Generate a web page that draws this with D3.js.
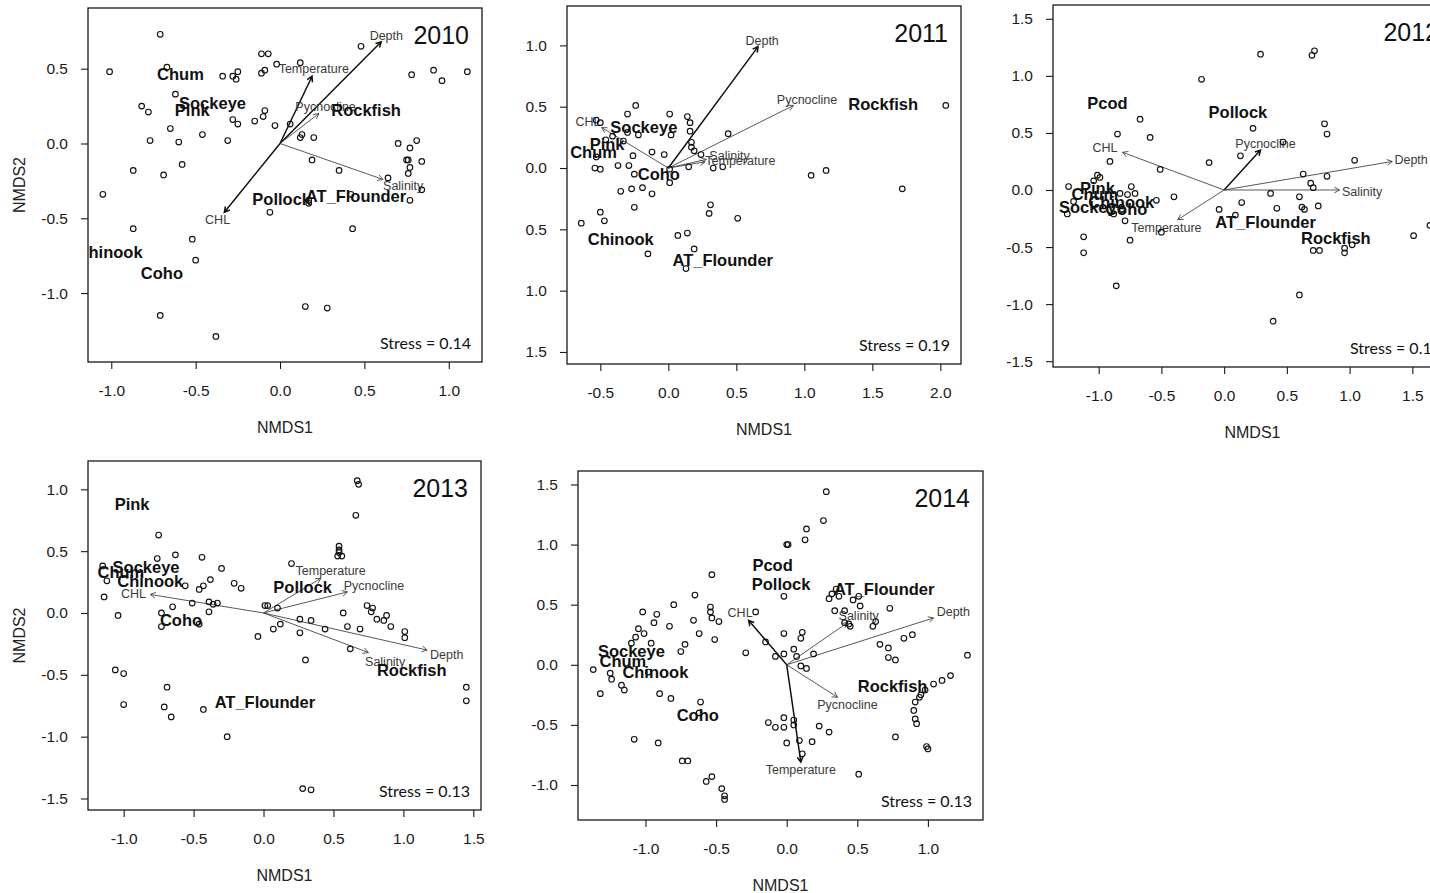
<!DOCTYPE html>
<html>
<head>
<meta charset="utf-8">
<script src="https://cdn.jsdelivr.net/npm/d3@7"></script>
<style>
body{margin:0;background:#fff;}
svg text{font-family:"Liberation Sans",Arial,sans-serif;}
.box{fill:none;stroke:#1a1a1a;stroke-width:1.3px;}
.pt{fill:none;stroke:#111;stroke-width:1.15px;}
.vec{stroke:#444;stroke-width:0.9px;fill:none;}
.vec.strong{stroke:#111;stroke-width:1.5px;}
.vlab{font-size:12.5px;fill:#3a3a3a;}
.sp{font-size:16.5px;font-weight:bold;fill:#111;}
.yr{font-size:25px;fill:#111;}
.stress{font-family:Lato,"Open Sans",sans-serif !important;font-size:16px;fill:#111;}
.ttl{font-size:16px;fill:#222;}
</style>
</head>
<body>
<div class="container"></div>
<script>
(function(){

// ---- 2010 ----
var points2010 = [
  [-0.71,0.73],[-1.01,0.48],[-0.67,0.51],[-0.34,0.45],[-0.28,0.45],[-0.25,0.48],[-0.26,0.43],[-0.11,0.60],[-0.07,0.60],
  [-0.11,0.47],[-0.09,0.49],[-0.02,0.53],[0.12,0.54],[0.48,0.65],[0.78,0.46],[0.91,0.49],[0.96,0.42],[1.11,0.48],
  [-0.62,0.33],[-0.82,0.25],[-0.78,0.21],[-0.65,0.10],[-0.77,0.02],[-0.60,0.01],[-0.46,0.06],[-0.31,0.02],[-0.28,0.16],
  [-0.25,0.13],[-0.15,0.15],[-0.10,0.18],[-0.09,0.22],[-0.03,0.12],[0.06,0.13],[0.13,0.06],[0.12,0.04],[0.20,0.04],
  [0.70,0.00],[0.77,-0.03],[0.81,0.02],[0.75,-0.11],[0.76,-0.11],[0.77,-0.16],[0.76,-0.20],[0.84,-0.12],[0.64,-0.23],
  [0.84,-0.31],[0.77,-0.38],[0.19,-0.11],[0.35,-0.18],[0.42,-0.34],[0.17,-0.40],[0.17,-0.38],[-0.06,-0.46],[0.43,-0.57],
  [-0.87,-0.18],[-0.69,-0.21],[-0.58,-0.14],[-1.05,-0.34],[-0.87,-0.57],[-0.52,-0.64],[-0.50,-0.78],[-0.71,-1.15],
  [-0.38,-1.29],[0.15,-1.09],[0.28,-1.10]
];
// name, tip x, tip y, label x, label y
var vectors2010 = [
  ["Depth",0.60,0.68,0.63,0.72],
  ["Temperature",0.19,0.45,0.20,0.50],
  ["Pycnocline",0.23,0.20,0.27,0.245],
  ["Salinity",0.61,-0.24,0.73,-0.285],
  ["CHL",-0.33,-0.46,-0.37,-0.51]
];
var species2010 = [
  ["Chum",-0.59,0.46],["Sockeye",-0.40,0.27],["Pink",-0.52,0.22],["Rockfish",0.51,0.22],
  ["Pollock",0.01,-0.37],["AT_Flounder",0.45,-0.35],["Chinook",-1.01,-0.73],["Coho",-0.70,-0.87]
];

// ---- 2011 ----
var points2011 = [
  [-0.24,0.51],[-0.30,0.44],[0.01,0.44],[0.14,0.42],[0.16,0.37],[0.16,0.30],[-0.53,0.39],[-0.50,0.37],[-0.41,0.26],
  [-0.46,0.23],[-0.33,0.22],[-0.30,0.29],[-0.22,0.27],[0.02,0.27],[0.17,0.21],[0.17,0.17],[0.19,0.14],[0.24,0.11],
  [0.44,0.28],[-0.12,0.13],[-0.03,0.11],[-0.26,0.10],[-0.53,0.09],[-0.54,0.00],[-0.50,-0.01],[-0.37,0.02],[-0.29,0.02],
  [-0.25,-0.05],[0.01,-0.01],[0.01,-0.12],[0.15,0.01],[0.33,0.00],[0.40,0.01],[-0.35,-0.19],[-0.27,-0.17],[-0.19,-0.16],
  [-0.12,-0.21],[-0.25,-0.32],[-0.50,-0.36],[-0.47,-0.43],[-0.64,-0.45],[0.31,-0.30],[0.30,-0.37],[0.51,-0.41],
  [0.07,-0.55],[0.14,-0.53],[0.19,-0.66],[-0.15,-0.70],[0.13,-0.82],[1.05,-0.06],[1.16,-0.02],[1.72,-0.17],[2.04,0.51]
];
var vectors2011 = [
  ["Depth",0.66,0.99,0.69,1.04],
  ["Pycnocline",0.92,0.51,1.02,0.56],
  ["Salinity",0.28,0.07,0.45,0.10],
  ["Temperature",0.27,0.05,0.53,0.06],
  ["CHL",-0.49,0.33,-0.59,0.38]
];
var species2011 = [
  ["Rockfish",1.58,0.52],["Sockeye",-0.18,0.33],["Pink",-0.45,0.19],["Chum",-0.55,0.13],
  ["Coho",-0.07,-0.05],["Chinook",-0.35,-0.58],["AT_Flounder",0.40,-0.75]
];

// ---- 2012 ----
var points2012 = [
  [0.29,1.19],[0.72,1.22],[0.70,1.18],[-0.18,0.97],[-0.67,0.62],[-0.85,0.49],[-0.59,0.46],[0.23,0.54],[0.80,0.58],
  [0.82,0.49],[0.47,0.42],[0.13,0.30],[-0.12,0.24],[1.04,0.26],[-0.91,0.25],[-0.51,0.18],[-1.01,0.13],[-0.99,0.11],
  [-1.04,0.08],[0.63,0.14],[0.82,0.12],[0.69,0.06],[0.71,0.02],[-1.24,0.03],[-0.74,0.03],[-0.83,-0.03],[-0.77,-0.04],
  [-0.71,-0.03],[-1.20,-0.10],[-0.54,-0.09],[-0.40,-0.06],[0.37,-0.03],[0.60,-0.06],[0.14,-0.11],[-0.04,-0.17],
  [0.09,-0.22],[0.42,-0.16],[0.62,-0.15],[0.64,-0.17],[0.75,-0.14],[-1.25,-0.21],[-0.88,-0.21],[-0.79,-0.27],
  [-0.50,-0.37],[-1.12,-0.41],[-0.75,-0.44],[-1.12,-0.55],[0.71,-0.53],[0.76,-0.53],[0.96,-0.51],[0.96,-0.55],
  [1.02,-0.48],[1.51,-0.40],[1.64,-0.31],[-0.86,-0.84],[0.60,-0.92],[0.39,-1.15]
];
var vectors2012 = [
  ["CHL",-0.81,0.33,-0.95,0.37],
  ["Pycnocline",0.29,0.35,0.33,0.41],
  ["Depth",1.34,0.25,1.49,0.27],
  ["Salinity",0.92,0.00,1.10,-0.01],
  ["Temperature",-0.37,-0.26,-0.46,-0.33]
];
var species2012 = [
  ["Pcod",-0.93,0.76],["Pollock",0.11,0.68],["Pink",-1.01,0.015],["Chum",-1.03,-0.035],
  ["Chinook",-0.82,-0.11],["Sockeye",-1.05,-0.15],["Coho",-0.78,-0.17],["AT_Flounder",0.33,-0.28],["Rockfish",0.89,-0.42]
];

// ---- 2013 ----
var points2013 = [
  [0.67,1.07],[0.68,1.04],[0.66,0.79],[-0.75,0.63],[0.54,0.54],[0.54,0.49],[0.53,0.46],[0.56,0.46],[0.54,0.51],
  [-0.76,0.44],[-0.63,0.47],[-0.44,0.45],[-0.30,0.36],[0.20,0.40],[-1.15,0.38],[-1.12,0.26],[-1.14,0.13],[-0.56,0.22],
  [-0.46,0.19],[-0.43,0.22],[-0.38,0.27],[-0.21,0.24],[-0.16,0.20],[-0.65,0.05],[-0.51,0.08],[-0.39,0.09],[-0.39,0.01],
  [-0.36,0.07],[-0.33,0.08],[-0.73,0.00],[-0.73,-0.11],[-0.46,-0.09],[-1.04,-0.02],[0.01,0.06],[0.03,0.06],[0.10,0.04],
  [0.26,-0.05],[0.34,-0.06],[0.12,-0.09],[0.07,-0.13],[0.26,-0.16],[0.44,-0.13],[-0.04,-0.19],[0.57,0.00],[0.60,-0.11],
  [0.69,-0.13],[0.74,0.06],[0.78,0.04],[0.77,0.01],[0.81,-0.05],[0.86,-0.06],[0.88,-0.02],[0.91,-0.11],[1.01,-0.15],
  [1.01,-0.20],[0.62,-0.29],[0.30,-0.38],[-1.06,-0.46],[-1.00,-0.49],[-1.00,-0.74],[-0.69,-0.60],[-0.71,-0.76],
  [-0.66,-0.84],[-0.43,-0.78],[-0.26,-1.00],[0.28,-1.42],[0.34,-1.43],[1.45,-0.60],[1.45,-0.71]
];
var vectors2013 = [
  ["CHL",-0.81,0.15,-0.93,0.16],
  ["Temperature",0.41,0.28,0.48,0.34],
  ["Pycnocline",0.60,0.17,0.79,0.22],
  ["Depth",1.17,-0.30,1.31,-0.34],
  ["Salinity",0.75,-0.32,0.87,-0.39]
];
var species2013 = [
  ["Pink",-0.94,0.88],["Sockeye",-0.84,0.37],["Chum",-1.02,0.33],["Chinook",-0.81,0.26],["Coho",-0.59,-0.06],
  ["Pollock",0.28,0.21],["Rockfish",1.06,-0.46],["AT_Flounder",0.01,-0.72]
];

// ---- 2014 ----
var points2014 = [
  [0.28,1.44],[0.26,1.20],[0.14,1.13],[0.13,1.04],[0.01,1.00],[0.00,1.00],[-0.53,0.75],[-0.65,0.58],[-0.80,0.50],
  [-1.02,0.44],[-0.92,0.42],[-0.94,0.35],[-0.83,0.32],[-1.05,0.30],[-1.01,0.26],[-1.07,0.23],[-1.10,0.18],[-0.96,0.18],
  [-0.72,0.17],[-0.75,0.11],[-0.66,0.37],[-0.54,0.48],[-0.54,0.44],[-0.53,0.39],[-0.48,0.36],[-0.62,0.26],[-0.51,0.21],
  [-0.29,0.10],[-0.22,0.44],[-0.02,0.57],[-0.15,0.19],[-0.08,0.07],[-0.02,0.09],[-0.02,0.26],[0.05,0.13],[0.07,0.07],
  [0.10,0.22],[0.11,0.27],[0.19,0.09],[0.10,-0.01],[0.14,-0.03],[0.32,0.59],[0.35,0.63],[0.30,0.55],[0.37,0.57],
  [0.34,0.45],[0.41,0.45],[0.47,0.54],[0.51,0.57],[0.52,0.49],[0.41,0.35],[0.44,0.34],[0.45,0.32],[0.61,0.32],
  [0.63,0.36],[0.73,0.47],[0.66,0.17],[0.72,0.14],[0.72,0.06],[0.77,0.04],[0.83,0.22],[0.89,0.25],[1.28,0.08],
  [1.16,-0.09],[1.10,-0.13],[1.04,-0.16],[0.98,-0.21],[0.95,-0.25],[0.94,-0.27],[0.91,-0.31],[0.90,-0.38],
  [0.91,-0.45],[0.92,-0.49],[0.77,-0.60],[0.99,-0.68],[1.00,-0.70],[0.51,-0.91],[-1.25,-0.07],[-1.24,-0.12],
  [-1.37,-0.04],[-1.32,-0.24],[-1.17,-0.17],[-1.15,-0.21],[-0.98,-0.06],[-0.90,-0.24],[-0.82,-0.28],[-0.61,-0.31],
  [-0.62,-0.40],[-1.08,-0.62],[-0.91,-0.65],[-0.74,-0.80],[-0.70,-0.80],[-0.57,-0.97],[-0.53,-0.93],[-0.46,-1.03],
  [-0.44,-1.09],[-0.44,-1.12],[-0.02,-0.44],[-0.13,-0.48],[-0.08,-0.52],[-0.02,-0.52],[0.05,-0.46],[0.05,-0.50],
  [0.09,-0.63],[0.00,-0.65],[0.18,-0.64],[0.23,-0.51],[0.30,-0.56],[0.11,-0.74]
];
var vectors2014 = [
  ["CHL",-0.27,0.37,-0.33,0.43],
  ["Salinity",0.43,0.35,0.51,0.41],
  ["Depth",1.04,0.39,1.18,0.44],
  ["Pycnocline",0.36,-0.27,0.43,-0.33],
  ["Temperature",0.10,-0.81,0.10,-0.87]
];
var species2014 = [
  ["Pcod",-0.10,0.83],["Pollock",-0.04,0.67],["AT_Flounder",0.69,0.63],["Sockeye",-1.10,0.11],
  ["Chum",-1.16,0.03],["Chinook",-0.93,-0.06],["Coho",-0.63,-0.42],["Rockfish",0.75,-0.18]
];

// ---- axes ----
var xTicks2010 = [-1.0,-0.5,0.0,0.5,1.0], yTicks2010 = [-1.0,-0.5,0.0,0.5];
var xTicks2011 = [-0.5,0.0,0.5,1.0,1.5,2.0], yTicks2011 = [-1.5,-1.0,-0.5,0.0,0.5,1.0];
var yTickLabels2011 = ["1.5","1.0","0.5","0.0","0.5","1.0"];
var xTicks2012 = [-1.0,-0.5,0.0,0.5,1.0,1.5], yTicks2012 = [-1.5,-1.0,-0.5,0.0,0.5,1.0,1.5];
var xTicks2013 = [-1.0,-0.5,0.0,0.5,1.0,1.5], yTicks2013 = [-1.5,-1.0,-0.5,0.0,0.5,1.0];
var xTicks2014 = [-1.0,-0.5,0.0,0.5,1.0], yTicks2014 = [-1.0,-0.5,0.0,0.5,1.0,1.5];

var fmt = function(d){ return d.toFixed(1); };

// panel layout; "strong" lists the arrows drawn heavier in the original
var panels = [
  {year:"2010", pts:points2010, vec:vectors2010, sp:species2010, stress:"Stress = 0.14", strong:["Depth","Temperature","CHL"],
   box:[88,8,482,362], xDom:[-1.138,1.197], yDom:[-1.461,0.906], xTicks:xTicks2010, yTicks:yTicks2010, yLabels:yTicks2010.map(fmt), yTitle:true},
  {year:"2011", pts:points2011, vec:vectors2011, sp:species2011, stress:"Stress = 0.19", strong:["Depth"],
   box:[567,6,961,364], xDom:[-0.745,2.152], yDom:[-1.598,1.321], xTicks:xTicks2011, yTicks:yTicks2011, yLabels:yTickLabels2011, yTitle:false},
  {year:"2012", pts:points2012, vec:vectors2012, sp:species2012, stress:"Stress = 0.12", strong:["Pycnocline"],
   box:[1053,5,1452,367], xDom:[-1.364,1.816], yDom:[-1.551,1.621], xTicks:xTicks2012, yTicks:yTicks2012, yLabels:yTicks2012.map(fmt), yTitle:false},
  {year:"2013", pts:points2013, vec:vectors2013, sp:species2013, stress:"Stress = 0.13", strong:[],
   box:[88,461,481,810], xDom:[-1.255,1.555], yDom:[-1.593,1.229], xTicks:xTicks2013, yTicks:yTicks2013, yLabels:yTicks2013.map(fmt), yTitle:true},
  {year:"2014", pts:points2014, vec:vectors2014, sp:species2014, stress:"Stress = 0.13", strong:["Temperature","CHL"],
   box:[578,471,983,820], xDom:[-1.478,1.390], yDom:[-1.291,1.612], xTicks:xTicks2014, yTicks:yTicks2014, yLabels:yTicks2014.map(fmt), yTitle:false}
];

var svg = d3.select(".container")
  .append("svg")
  .attr("width", 1430)
  .attr("height", 893)
  .style("display", "block");

panels.forEach(function(p, i){
  drawPanel(svg, p, i);
});

function drawPanel(svg, p, idx){
  var l = p.box[0], t = p.box[1], r = p.box[2], b = p.box[3];
  var x = d3.scaleLinear().domain(p.xDom).range([l, r]);
  var y = d3.scaleLinear().domain(p.yDom).range([b, t]);

  svg.append("clipPath")
    .attr("id", "clip" + idx)
    .append("rect")
    .attr("x", l).attr("y", t)
    .attr("width", r - l).attr("height", b - t);

  // axes (R style: ticks only, box drawn separately)
  var xAxis = d3.axisBottom(x)
    .tickValues(p.xTicks)
    .tickSize(7)
    .tickPadding(16)
    .tickFormat(fmt);
  var gx = svg.append("g")
    .attr("transform", "translate(0," + b + ")")
    .call(xAxis);
  gx.select(".domain").remove();

  var yAxis = d3.axisLeft(y)
    .tickValues(p.yTicks)
    .tickSize(7)
    .tickPadding(13)
    .tickFormat(function(d, i){ return p.yLabels[i]; });
  var gy = svg.append("g")
    .attr("transform", "translate(" + l + ",0)")
    .call(yAxis);
  gy.select(".domain").remove();

  [gx, gy].forEach(function(g){
    g.attr("font-size", 15.5)
      .attr("font-family", '"Liberation Sans", Arial, sans-serif');
    g.selectAll(".tick line").attr("stroke", "#1a1a1a").attr("stroke-width", 1.1);
    g.selectAll(".tick text").attr("fill", "#1a1a1a");
  });

  svg.append("rect")
    .attr("class", "box")
    .attr("x", l).attr("y", t)
    .attr("width", r - l).attr("height", b - t);

  svg.append("text")
    .attr("class", "ttl")
    .attr("x", (l + r) / 2)
    .attr("y", b + 71)
    .attr("text-anchor", "middle")
    .text("NMDS1");

  if (p.yTitle){
    svg.append("text")
      .attr("class", "ttl")
      .attr("transform", "translate(25," + ((t + b) / 2) + ") rotate(-90)")
      .attr("text-anchor", "middle")
      .text("NMDS2");
  }

  var inner = svg.append("g")
    .attr("clip-path", "url(#clip" + idx + ")");

  // environmental vectors
  var x0 = x(0), y0 = y(0);
  inner.selectAll(".vec")
    .data(p.vec)
    .enter()
    .append("path")
    .attr("class", function(d){
      return p.strong.indexOf(d[0]) >= 0 ? "vec strong" : "vec";
    })
    .attr("d", function(d){
      var tx = x(d[1]), ty = y(d[2]);
      var ang = Math.atan2(ty - y0, tx - x0);
      var len = 6, spread = 0.5;
      var a1 = ang + Math.PI - spread, a2 = ang + Math.PI + spread;
      return "M" + x0 + "," + y0 + "L" + tx + "," + ty +
        "M" + (tx + len * Math.cos(a1)) + "," + (ty + len * Math.sin(a1)) +
        "L" + tx + "," + ty +
        "L" + (tx + len * Math.cos(a2)) + "," + (ty + len * Math.sin(a2));
    });

  inner.selectAll(".vlab")
    .data(p.vec)
    .enter()
    .append("text")
    .attr("class", "vlab")
    .attr("x", function(d){ return x(d[3]); })
    .attr("y", function(d){ return y(d[4]); })
    .attr("dy", "0.35em")
    .attr("text-anchor", "middle")
    .text(function(d){ return d[0]; });

  // sites
  inner.selectAll(".pt")
    .data(p.pts)
    .enter()
    .append("circle")
    .attr("class", "pt")
    .attr("cx", function(d){ return x(d[0]); })
    .attr("cy", function(d){ return y(d[1]); })
    .attr("r", 2.8);

  // species
  inner.selectAll(".sp")
    .data(p.sp)
    .enter()
    .append("text")
    .attr("class", "sp")
    .attr("x", function(d){ return x(d[1]); })
    .attr("y", function(d){ return y(d[2]); })
    .attr("dy", "0.35em")
    .attr("text-anchor", "middle")
    .text(function(d){ return d[0]; });

  svg.append("text")
    .attr("class", "yr")
    .attr("x", r - 13)
    .attr("y", t + 36)
    .attr("text-anchor", "end")
    .text(p.year);

  svg.append("text")
    .attr("class", "stress")
    .attr("x", r - 11)
    .attr("y", b - 13)
    .attr("text-anchor", "end")
    .text(p.stress);
}

})();
</script>
</body>
</html>
